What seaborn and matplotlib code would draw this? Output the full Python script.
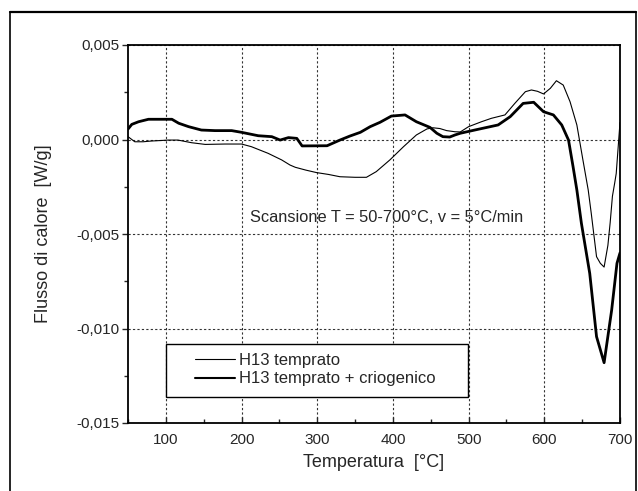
import matplotlib
matplotlib.use("Agg")
import matplotlib.pyplot as plt
from matplotlib.lines import Line2D
from matplotlib.patches import Rectangle
from matplotlib.ticker import FuncFormatter, MultipleLocator
import seaborn as sns
import pandas as pd

# ---- data ----
temp_temprato = [50, 59, 70, 81, 95, 103, 116, 134, 152, 178, 200, 213, 235, 253, 264,
                 271, 285, 299, 315, 330, 350, 365, 378, 396, 414, 431, 445, 453, 462,
                 471, 482, 489, 500, 517, 530, 548, 561, 575, 583, 591, 599, 608, 616,
                 625, 634, 643, 651, 658, 662, 669, 674, 679, 684, 687, 690, 693, 695, 700]
flow_temprato_mW = [0.15, -0.12, -0.12, -0.08, -0.05, -0.03, -0.03, -0.17, -0.26, -0.24,
                    -0.24, -0.38, -0.73, -1.08, -1.35, -1.47, -1.62, -1.75, -1.85, -1.97,
                    -2.0, -2.0, -1.70, -1.08, -0.38, 0.24, 0.56, 0.62, 0.58, 0.47, 0.41,
                    0.40, 0.68, 0.94, 1.12, 1.30, 1.91, 2.53, 2.62, 2.55, 2.41, 2.71, 3.11,
                    2.88, 2.0, 0.77, -1.08, -2.67, -3.9, -6.2, -6.55, -6.75, -5.6, -4.4,
                    -3.0, -2.3, -1.8, 0.9]

temp_crio = [50, 55, 64, 77, 108, 117, 130, 147, 165, 187, 200, 222, 240, 251, 262, 273,
             280, 313, 330, 343, 357, 370, 383, 398, 416, 431, 449, 458, 466, 475, 482,
             489, 508, 539, 555, 572, 586, 599, 612, 623, 632, 638, 643, 649, 660, 669,
             679, 689, 696, 700]
flow_crio_mW = [0.55, 0.80, 0.94, 1.07, 1.07, 0.86, 0.68, 0.50, 0.47, 0.47, 0.38, 0.20,
                0.15, -0.03, 0.10, 0.06, -0.34, -0.33, -0.03, 0.18, 0.38, 0.68, 0.91,
                1.24, 1.30, 0.94, 0.64, 0.33, 0.15, 0.13, 0.24, 0.33, 0.50, 0.77, 1.21,
                1.91, 1.97, 1.47, 1.30, 0.77, -0.03, -1.44, -2.67, -4.43, -7.08, -10.43,
                -11.81, -9.02, -6.55, -6.0]

series_labels = ["H13 temprato", "H13 temprato + criogenico"]
x_ticks = [100, 200, 300, 400, 500, 600, 700]
y_ticks = [0.005, 0.000, -0.005, -0.010, -0.015]

df_a = pd.DataFrame({"T": temp_temprato, "Q": [v / 1000 for v in flow_temprato_mW]})
df_b = pd.DataFrame({"T": temp_crio, "Q": [v / 1000 for v in flow_crio_mW]})

sns.set_style("ticks")
plt.rcParams["font.family"] = ["Liberation Sans", "DejaVu Sans"]

fig = plt.figure(figsize=(6.38, 4.91), dpi=100)
ax = fig.add_axes([128 / 638, 1 - 423 / 491, 492 / 638, 378 / 491])

sns.lineplot(data=df_a, x="T", y="Q", ax=ax, color="black", lw=0.8,
             sort=False, estimator=None, label=series_labels[0])
sns.lineplot(data=df_b, x="T", y="Q", ax=ax, color="black", lw=2.0,
             sort=False, estimator=None, label=series_labels[1])

ax.set_xlim(50, 700)
ax.set_ylim(-0.015, 0.005)
ax.set_xticks(x_ticks)
ax.set_yticks(y_ticks)
ax.xaxis.set_minor_locator(MultipleLocator(50))
ax.yaxis.set_minor_locator(MultipleLocator(0.0025))
ax.yaxis.set_major_formatter(FuncFormatter(lambda v, p: f"{v:.3f}".replace(".", ",").replace("\u2212", "-")))
ax.tick_params(axis="x", which="both", direction="in", labelsize=11, pad=7, length=4, width=1)
ax.tick_params(axis="x", which="minor", length=3)
ax.tick_params(axis="y", which="both", direction="out", labelsize=11, pad=2, length=4, width=1)
ax.tick_params(axis="y", which="minor", length=3)

ax.grid(True, which="major", color="#333333", lw=0.8, ls=(0, (2, 2)))
for s in ax.spines.values():
    s.set_visible(True)
    s.set_linewidth(1.3)
    s.set_color("black")

ax.set_xlabel("Temperatura  [°C]", fontsize=13, labelpad=5)
ax.set_ylabel("Flusso di calore  [W/g]", fontsize=13, labelpad=18)

ax.text(211, -0.00415, "Scansione T = 50-700°C, v = 5°C/min", fontsize=11.8,
        va="center", ha="left")

# legend box and legend
ax.add_patch(Rectangle((0.077, 0.069), 0.614, 0.140, transform=ax.transAxes,
                       facecolor="white", edgecolor="black", lw=1.0, zorder=4))
leg = ax.legend(loc="center left", bbox_to_anchor=(0.136, 0.141), frameon=False,
                fontsize=12, handlelength=2.4, handletextpad=0.25,
                labelspacing=0.2, borderaxespad=0, borderpad=0)
leg.set_zorder(5)
leg.get_lines()[1].set_linewidth(1.5)

# page frame
fig.add_artist(Line2D([10 / 638, 10 / 638], [0, 1 - 12 / 491], transform=fig.transFigure,
                      color="black", lw=1.2))
fig.add_artist(Line2D([10 / 638, 636 / 638], [1 - 12 / 491, 1 - 12 / 491],
                      transform=fig.transFigure, color="black", lw=1.6))
fig.add_artist(Line2D([636 / 638, 636 / 638], [0, 1 - 12 / 491], transform=fig.transFigure,
                      color="black", lw=1.2))

fig.savefig("out.png", dpi=100)
